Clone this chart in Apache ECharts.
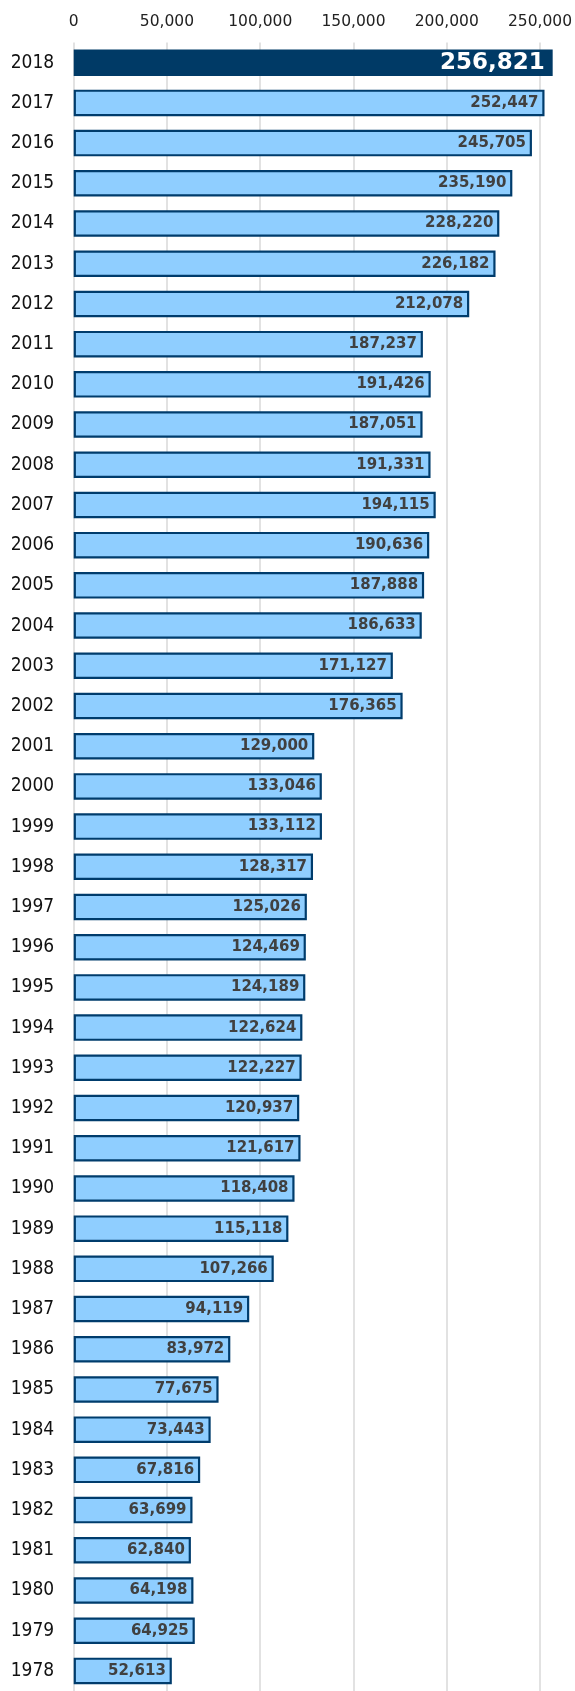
<!DOCTYPE html>
<html><head><meta charset="utf-8">
<script src="https://cdn.jsdelivr.net/npm/echarts@6/dist/echarts.min.js"></script>
<style>html,body{margin:0;padding:0;background:#fff}#c{width:575px;height:1691px}</style>
</head><body><div id="c"></div>
<script>
const years = ['2018','2017','2016','2015','2014','2013','2012','2011','2010','2009','2008','2007','2006','2005','2004','2003','2002','2001','2000','1999','1998','1997','1996','1995','1994','1993','1992','1991','1990','1989','1988','1987','1986','1985','1984','1983','1982','1981','1980','1979','1978'];
const values = [256821,252447,245705,235190,228220,226182,212078,187237,191426,187051,191331,194115,190636,187888,186633,171127,176365,129000,133046,133112,128317,125026,124469,124189,122624,122227,120937,121617,118408,115118,107266,94119,83972,77675,73443,67816,63699,62840,64198,64925,52613];
const tickStep = 50000;

const font = 'DejaVu Sans, Verdana, sans-serif';
const catFont = '"DejaVu Sans Condensed", "DejaVu Sans", sans-serif';
const data = values.map((v, i) => i === 0 ? {
  value: v,
  itemStyle: { color: '#003a66', borderWidth: 0 },
  label: { color: '#ffffff', fontSize: 23, fontWeight: 'bold', distance: 8 }
} : v);

const chart = echarts.init(document.getElementById('c'), null, { renderer: 'canvas' });
chart.setOption({
  animation: false,
  backgroundColor: '#ffffff',
  grid: { left: 73.7, right: 0, top: 42.6, bottom: -6.7, containLabel: false },
  xAxis: {
    type: 'value', position: 'top', min: 0, max: 267200, interval: tickStep,
    axisLine: { show: false }, axisTick: { show: false },
    axisLabel: { margin: 13, fontSize: 15.5, color: '#222', fontFamily: font, showMaxLabel: false,
      formatter: v => v.toLocaleString('en-US') },
    splitLine: { show: true, showMaxLine: false, lineStyle: { color: '#d9d9d9', width: 1.5 } }
  },
  yAxis: {
    type: 'category', data: years, inverse: true,
    axisLine: { show: false }, axisTick: { show: false },
    axisLabel: { margin: 19.5, fontSize: 19, color: '#111', fontFamily: catFont }
  },
  series: [{
    type: 'bar', data: data, barWidth: 26.5,
    itemStyle: { color: '#8fceff', borderColor: '#003c6c', borderWidth: 2.2 },
    label: { show: true, position: 'insideRight', distance: 6, fontSize: 15, fontWeight: 'bold', color: '#404040', fontFamily: font,
      formatter: p => p.value.toLocaleString('en-US') }
  }]
});
</script></body></html>
